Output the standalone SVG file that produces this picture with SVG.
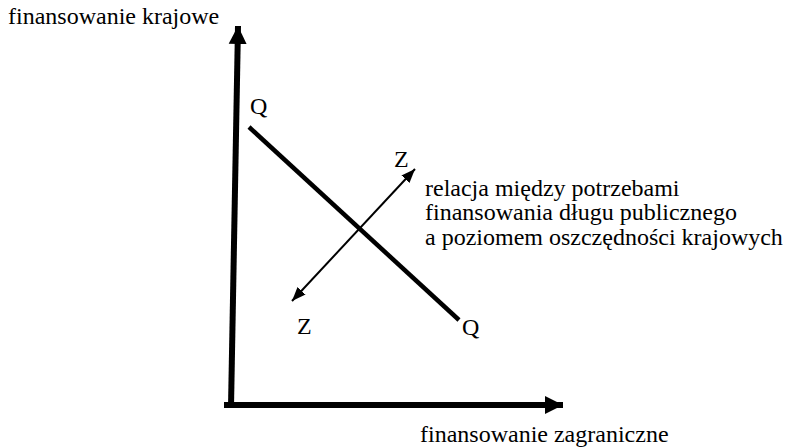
<svg xmlns="http://www.w3.org/2000/svg" width="786" height="448" viewBox="0 0 786 448">
<style>
text{font-family:"Liberation Serif","Times New Roman",serif;font-size:24px;fill:#000}
.ax{stroke:#000;stroke-width:6;fill:none}
</style>
<defs>
<marker id="big" markerUnits="userSpaceOnUse" markerWidth="20" markerHeight="20" refX="18" refY="9" orient="auto" viewBox="0 0 20 18">
<path d="M0,0 L18,9 L0,18 z" fill="#000"/>
</marker>
<marker id="sm" markerUnits="userSpaceOnUse" markerWidth="14" markerHeight="12" refX="14" refY="5.5" orient="auto-start-reverse" viewBox="0 0 14 11">
<path d="M0,0 L14,5.5 L0,11 z" fill="#000"/>
</marker>
</defs>
<rect width="786" height="448" fill="#fff"/>
<g id="connectors">
<line class="ax" x1="231" y1="407" x2="238" y2="26" marker-end="url(#big)"/>
<line class="ax" x1="224" y1="405" x2="563" y2="405" marker-end="url(#big)"/>
<line x1="249" y1="127" x2="459" y2="320" stroke="#000" stroke-width="4.5"/>
<line x1="292" y1="301" x2="415" y2="169" stroke="#000" stroke-width="2" marker-start="url(#sm)" marker-end="url(#sm)"/>
</g>
<g id="label-y"><text x="8" y="24">finansowanie krajowe</text></g>
<g id="label-x"><text x="420" y="442">finansowanie zagraniczne</text></g>
<g id="Q1"><text x="250" y="114">Q</text></g>
<g id="Q2"><text x="462" y="335">Q</text></g>
<g id="Z1"><text x="394" y="167">Z</text></g>
<g id="Z2"><text x="297" y="334">Z</text></g>
<g id="desc">
<text x="425" y="196">relacja między potrzebami</text>
<text x="425" y="220">finansowania długu publicznego</text>
<text x="425" y="245">a poziomem oszczędności krajowych</text>
</g>
</svg>
